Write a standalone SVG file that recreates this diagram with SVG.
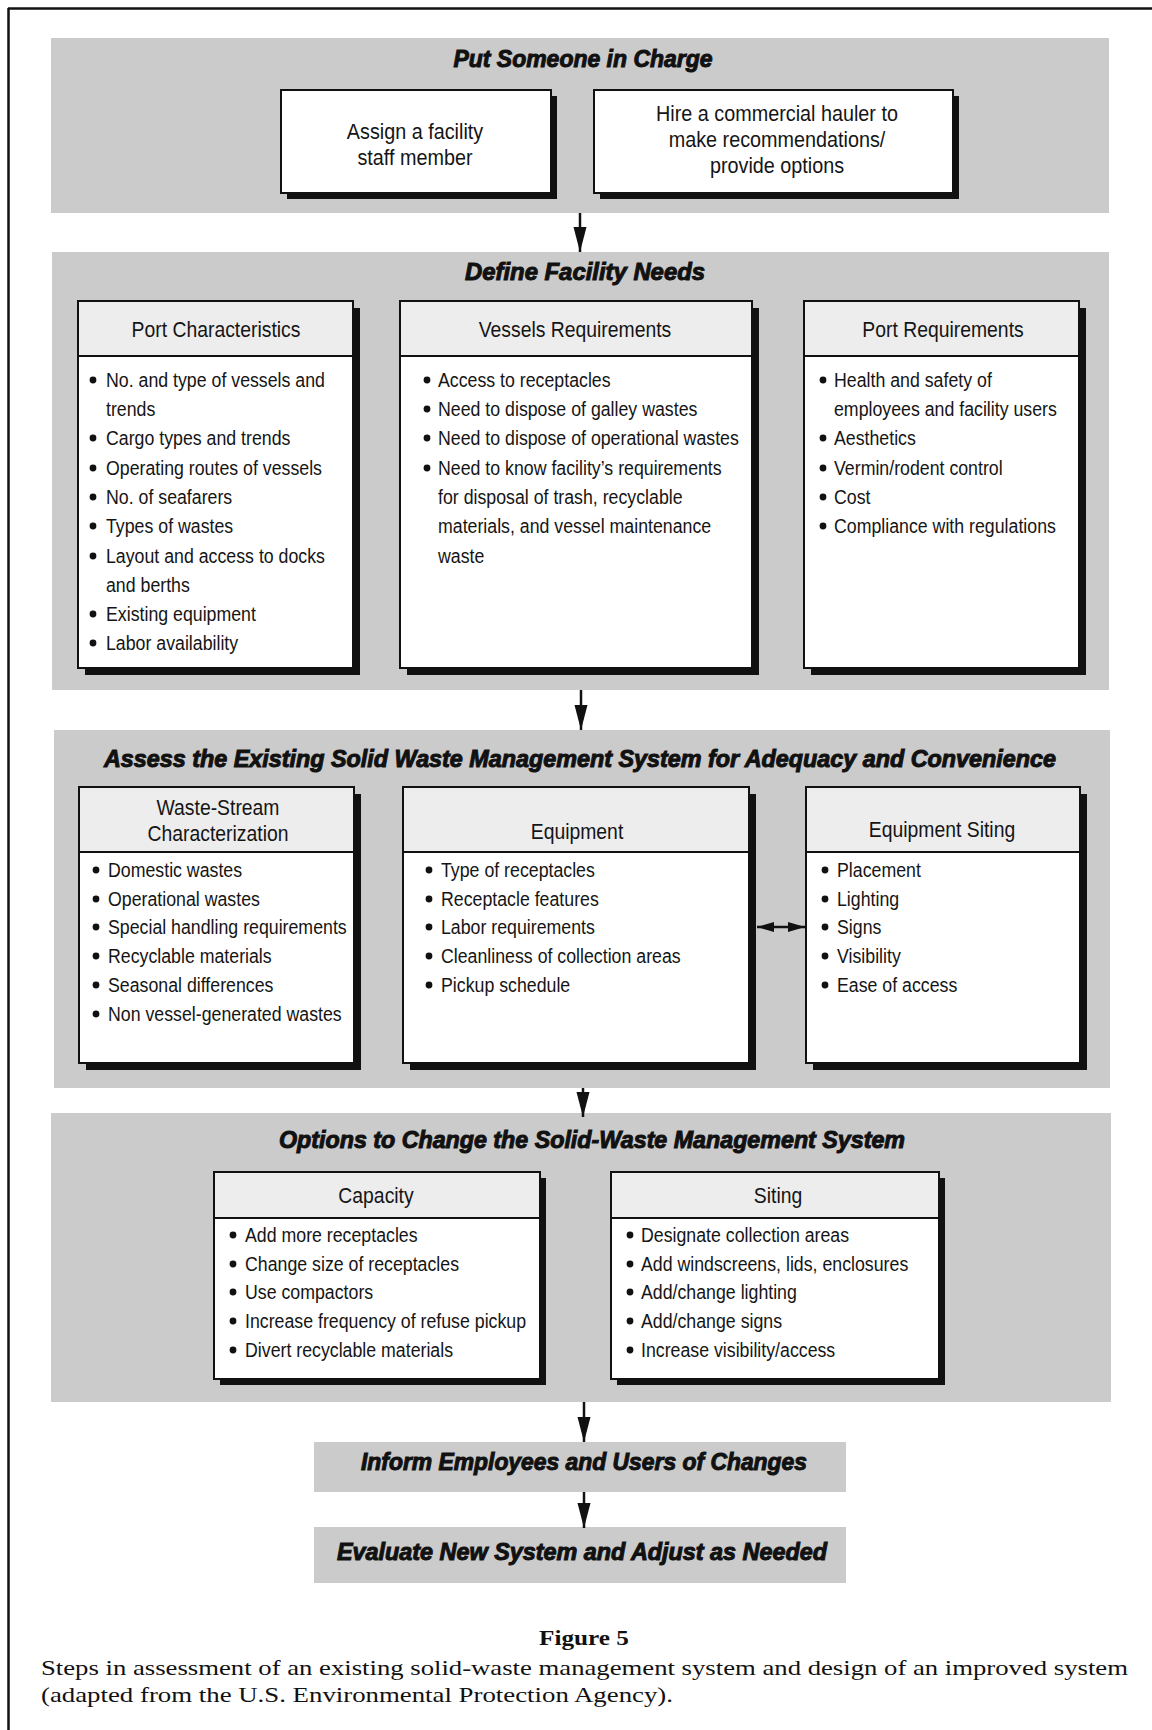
<svg xmlns="http://www.w3.org/2000/svg" width="1152" height="1730" viewBox="0 0 1152 1730">
<style>
.band{fill:#cbcbcb}
.box{fill:#fff;stroke:#111;stroke-width:2}
.hdr{fill:#ededed;stroke:#111;stroke-width:2}
.shadow{fill:#111}
.title{font-family:"Liberation Sans",Arial,sans-serif;font-weight:bold;font-style:italic;font-size:23px;fill:#111;stroke:#111;stroke-width:1;text-anchor:middle}
.item{font-family:"Liberation Sans",Arial,sans-serif;font-size:21px;fill:#151515}
.hd{font-family:"Liberation Sans",Arial,sans-serif;font-size:22px;fill:#151515;text-anchor:middle}
.top{font-family:"Liberation Sans",Arial,sans-serif;font-size:22px;fill:#151515;text-anchor:middle}
.bul{fill:#111}
.cap{font-family:"Liberation Serif","Times New Roman",serif;font-size:22px;fill:#111}
.conn{stroke:#111;stroke-width:2.5;fill:none}
</style>
<defs>
<marker id="ah" markerUnits="userSpaceOnUse" markerWidth="26" markerHeight="14" refX="25" refY="7" orient="auto">
<path d="M0,0.5 L25,7 L0,13.5 z" fill="#111"/>
</marker>
<marker id="ahs" markerUnits="userSpaceOnUse" markerWidth="18" markerHeight="11" refX="17" refY="5.5" orient="auto-start-reverse">
<path d="M0,0.5 L17,5.5 L0,10.5 z" fill="#111"/>
</marker>
</defs>
<rect width="1152" height="1730" fill="#fff"/>
<g id="frame">
<line x1="8" y1="8.5" x2="1152" y2="8.5" stroke="#111" stroke-width="2.5"/>
<line x1="8.5" y1="8" x2="8.5" y2="1730" stroke="#111" stroke-width="2.5"/>
</g>

<!-- Band 1 -->
<g id="put-someone-in-charge">
<rect class="band" x="51" y="38" width="1058" height="175"/>
<text class="title" x="583" y="67" textLength="259" lengthAdjust="spacingAndGlyphs">Put Someone in Charge</text>
</g>
<g id="assign-staff">
<rect class="shadow" x="287" y="96" width="270" height="103"/>
<rect class="box" x="281" y="90" width="270" height="103"/>
<g transform="translate(415 0) scale(0.9 1)">
<text class="top" x="0" y="139">Assign a facility</text>
<text class="top" x="0" y="165">staff member</text>
</g>
</g>
<g id="hire-hauler">
<rect class="shadow" x="600" y="96" width="359" height="103"/>
<rect class="box" x="594" y="90" width="359" height="103"/>
<g transform="translate(777 0) scale(0.9 1)">
<text class="top" x="0" y="121">Hire a commercial hauler to</text>
<text class="top" x="0" y="147">make recommendations/</text>
<text class="top" x="0" y="173">provide options</text>
</g>
</g>

<!-- Band 2 -->
<g id="define-facility-needs">
<rect class="band" x="52" y="252" width="1057" height="438"/>
<text class="title" x="585" y="280" textLength="240" lengthAdjust="spacingAndGlyphs">Define Facility Needs</text>
</g>
<g id="port-characteristics">
<rect class="shadow" x="85" y="308" width="275" height="367"/>
<rect class="box" x="78" y="301" width="275" height="367"/>
<rect class="hdr" x="78" y="301" width="275" height="55"/>
<g transform="translate(216 0) scale(0.88 1)"><text class="hd" x="0" y="337">Port Characteristics</text></g>
<g class="bul">
<circle cx="93" cy="380" r="3.4"/><circle cx="93" cy="438" r="3.4"/><circle cx="93" cy="468" r="3.4"/><circle cx="93" cy="497" r="3.4"/><circle cx="93" cy="526" r="3.4"/><circle cx="93" cy="556" r="3.4"/><circle cx="93" cy="614" r="3.4"/><circle cx="93" cy="643" r="3.4"/>
</g>
<g transform="translate(106 0) scale(0.845 1)">
<text class="item" x="0" y="387">No. and type of vessels and</text>
<text class="item" x="0" y="416">trends</text>
<text class="item" x="0" y="445">Cargo types and trends</text>
<text class="item" x="0" y="475">Operating routes of vessels</text>
<text class="item" x="0" y="504">No. of seafarers</text>
<text class="item" x="0" y="533">Types of wastes</text>
<text class="item" x="0" y="563">Layout and access to docks</text>
<text class="item" x="0" y="592">and berths</text>
<text class="item" x="0" y="621">Existing equipment</text>
<text class="item" x="0" y="650">Labor availability</text>
</g>
</g>
<g id="vessels-requirements">
<rect class="shadow" x="407" y="308" width="352" height="367"/>
<rect class="box" x="400" y="301" width="352" height="367"/>
<rect class="hdr" x="400" y="301" width="352" height="55"/>
<g transform="translate(575 0) scale(0.88 1)"><text class="hd" x="0" y="337">Vessels Requirements</text></g>
<g class="bul">
<circle cx="427" cy="380" r="3.4"/><circle cx="427" cy="409" r="3.4"/><circle cx="427" cy="438" r="3.4"/><circle cx="427" cy="468" r="3.4"/>
</g>
<g transform="translate(438 0) scale(0.845 1)">
<text class="item" x="0" y="387">Access to receptacles</text>
<text class="item" x="0" y="416">Need to dispose of galley wastes</text>
<text class="item" x="0" y="445">Need to dispose of operational wastes</text>
<text class="item" x="0" y="475">Need to know facility’s requirements</text>
<text class="item" x="0" y="504">for disposal of trash, recyclable</text>
<text class="item" x="0" y="533">materials, and vessel maintenance</text>
<text class="item" x="0" y="563">waste</text>
</g>
</g>
<g id="port-requirements">
<rect class="shadow" x="811" y="308" width="275" height="367"/>
<rect class="box" x="804" y="301" width="275" height="367"/>
<rect class="hdr" x="804" y="301" width="275" height="55"/>
<g transform="translate(943 0) scale(0.88 1)"><text class="hd" x="0" y="337">Port Requirements</text></g>
<g class="bul">
<circle cx="823" cy="380" r="3.4"/><circle cx="823" cy="438" r="3.4"/><circle cx="823" cy="468" r="3.4"/><circle cx="823" cy="497" r="3.4"/><circle cx="823" cy="526" r="3.4"/>
</g>
<g transform="translate(834 0) scale(0.845 1)">
<text class="item" x="0" y="387">Health and safety of</text>
<text class="item" x="0" y="416">employees and facility users</text>
<text class="item" x="0" y="445">Aesthetics</text>
<text class="item" x="0" y="475">Vermin/rodent control</text>
<text class="item" x="0" y="504">Cost</text>
<text class="item" x="0" y="533">Compliance with regulations</text>
</g>
</g>

<!-- Band 3 -->
<g id="assess-existing-system">
<rect class="band" x="54" y="730" width="1056" height="358"/>
<text class="title" x="580" y="767" textLength="952" lengthAdjust="spacingAndGlyphs">Assess the Existing Solid Waste Management System for Adequacy and Convenience</text>
</g>
<g id="waste-stream">
<rect class="shadow" x="86" y="794" width="275" height="276"/>
<rect class="box" x="79" y="787" width="275" height="276"/>
<rect class="hdr" x="79" y="787" width="275" height="65"/>
<g transform="translate(218 0) scale(0.88 1)">
<text class="hd" x="0" y="815">Waste-Stream</text>
<text class="hd" x="0" y="841">Characterization</text>
</g>
<g class="bul">
<circle cx="96" cy="870" r="3.4"/><circle cx="96" cy="899" r="3.4"/><circle cx="96" cy="927" r="3.4"/><circle cx="96" cy="956" r="3.4"/><circle cx="96" cy="985" r="3.4"/><circle cx="96" cy="1014" r="3.4"/>
</g>
<g transform="translate(108 0) scale(0.845 1)">
<text class="item" x="0" y="877">Domestic wastes</text>
<text class="item" x="0" y="906">Operational wastes</text>
<text class="item" x="0" y="934">Special handling requirements</text>
<text class="item" x="0" y="963">Recyclable materials</text>
<text class="item" x="0" y="992">Seasonal differences</text>
<text class="item" x="0" y="1021">Non vessel-generated wastes</text>
</g>
</g>
<g id="equipment">
<rect class="shadow" x="410" y="794" width="346" height="276"/>
<rect class="box" x="403" y="787" width="346" height="276"/>
<rect class="hdr" x="403" y="787" width="346" height="65"/>
<g transform="translate(577 0) scale(0.88 1)"><text class="hd" x="0" y="839">Equipment</text></g>
<g class="bul">
<circle cx="429" cy="870" r="3.4"/><circle cx="429" cy="899" r="3.4"/><circle cx="429" cy="927" r="3.4"/><circle cx="429" cy="956" r="3.4"/><circle cx="429" cy="985" r="3.4"/>
</g>
<g transform="translate(441 0) scale(0.845 1)">
<text class="item" x="0" y="877">Type of receptacles</text>
<text class="item" x="0" y="906">Receptacle features</text>
<text class="item" x="0" y="934">Labor requirements</text>
<text class="item" x="0" y="963">Cleanliness of collection areas</text>
<text class="item" x="0" y="992">Pickup schedule</text>
</g>
</g>
<g id="equipment-siting">
<rect class="shadow" x="813" y="794" width="274" height="276"/>
<rect class="box" x="806" y="787" width="274" height="276"/>
<rect class="hdr" x="806" y="787" width="274" height="65"/>
<g transform="translate(942 0) scale(0.88 1)"><text class="hd" x="0" y="837">Equipment Siting</text></g>
<g class="bul">
<circle cx="825" cy="870" r="3.4"/><circle cx="825" cy="899" r="3.4"/><circle cx="825" cy="927" r="3.4"/><circle cx="825" cy="956" r="3.4"/><circle cx="825" cy="985" r="3.4"/>
</g>
<g transform="translate(837 0) scale(0.845 1)">
<text class="item" x="0" y="877">Placement</text>
<text class="item" x="0" y="906">Lighting</text>
<text class="item" x="0" y="934">Signs</text>
<text class="item" x="0" y="963">Visibility</text>
<text class="item" x="0" y="992">Ease of access</text>
</g>
</g>

<!-- Band 4 -->
<g id="options-to-change">
<rect class="band" x="51" y="1113" width="1060" height="289"/>
<text class="title" x="592" y="1148" textLength="626" lengthAdjust="spacingAndGlyphs">Options to Change the Solid-Waste Management System</text>
</g>
<g id="capacity">
<rect class="shadow" x="220" y="1178" width="326" height="207"/>
<rect class="box" x="214" y="1172" width="326" height="207"/>
<rect class="hdr" x="214" y="1172" width="326" height="46"/>
<g transform="translate(376 0) scale(0.88 1)"><text class="hd" x="0" y="1203">Capacity</text></g>
<g class="bul">
<circle cx="233" cy="1235" r="3.4"/><circle cx="233" cy="1264" r="3.4"/><circle cx="233" cy="1292" r="3.4"/><circle cx="233" cy="1321" r="3.4"/><circle cx="233" cy="1350" r="3.4"/>
</g>
<g transform="translate(245 0) scale(0.845 1)">
<text class="item" x="0" y="1242">Add more receptacles</text>
<text class="item" x="0" y="1271">Change size of receptacles</text>
<text class="item" x="0" y="1299">Use compactors</text>
<text class="item" x="0" y="1328">Increase frequency of refuse pickup</text>
<text class="item" x="0" y="1357">Divert recyclable materials</text>
</g>
</g>
<g id="siting">
<rect class="shadow" x="617" y="1178" width="328" height="207"/>
<rect class="box" x="611" y="1172" width="328" height="207"/>
<rect class="hdr" x="611" y="1172" width="328" height="46"/>
<g transform="translate(778 0) scale(0.88 1)"><text class="hd" x="0" y="1203">Siting</text></g>
<g class="bul">
<circle cx="630" cy="1235" r="3.4"/><circle cx="630" cy="1264" r="3.4"/><circle cx="630" cy="1292" r="3.4"/><circle cx="630" cy="1321" r="3.4"/><circle cx="630" cy="1350" r="3.4"/>
</g>
<g transform="translate(641 0) scale(0.845 1)">
<text class="item" x="0" y="1242">Designate collection areas</text>
<text class="item" x="0" y="1271">Add windscreens, lids, enclosures</text>
<text class="item" x="0" y="1299">Add/change lighting</text>
<text class="item" x="0" y="1328">Add/change signs</text>
<text class="item" x="0" y="1357">Increase visibility/access</text>
</g>
</g>

<!-- Band 5 & 6 -->
<g id="inform-employees">
<rect class="band" x="314" y="1442" width="532" height="50"/>
<text class="title" x="584" y="1470" textLength="446" lengthAdjust="spacingAndGlyphs">Inform Employees and Users of Changes</text>
</g>
<g id="evaluate-system">
<rect class="band" x="314" y="1527" width="532" height="56"/>
<text class="title" x="582" y="1560" textLength="490" lengthAdjust="spacingAndGlyphs">Evaluate New System and Adjust as Needed</text>
</g>

<!-- Connectors -->
<g id="connectors">
<line class="conn" x1="580" y1="213" x2="580" y2="252" marker-end="url(#ah)"/>
<line class="conn" x1="581" y1="690" x2="581" y2="730" marker-end="url(#ah)"/>
<line class="conn" x1="583" y1="1088" x2="583" y2="1117" marker-end="url(#ah)"/>
<line class="conn" x1="584" y1="1402" x2="584" y2="1442" marker-end="url(#ah)"/>
<line class="conn" x1="584" y1="1492" x2="584" y2="1528" marker-end="url(#ah)"/>
<line class="conn" x1="757" y1="927" x2="805" y2="927" marker-start="url(#ahs)" marker-end="url(#ahs)"/>
</g>

<!-- Caption -->
<g id="caption">
<text class="cap" x="584" y="1645" text-anchor="middle" font-weight="bold" textLength="90" lengthAdjust="spacingAndGlyphs">Figure 5</text>
<text class="cap" x="41" y="1675" textLength="1087" lengthAdjust="spacingAndGlyphs">Steps in assessment of an existing solid-waste management system and design of an improved system</text>
<text class="cap" x="41" y="1702" textLength="632" lengthAdjust="spacingAndGlyphs">(adapted from the U.S. Environmental Protection Agency).</text>
</g>
</svg>
